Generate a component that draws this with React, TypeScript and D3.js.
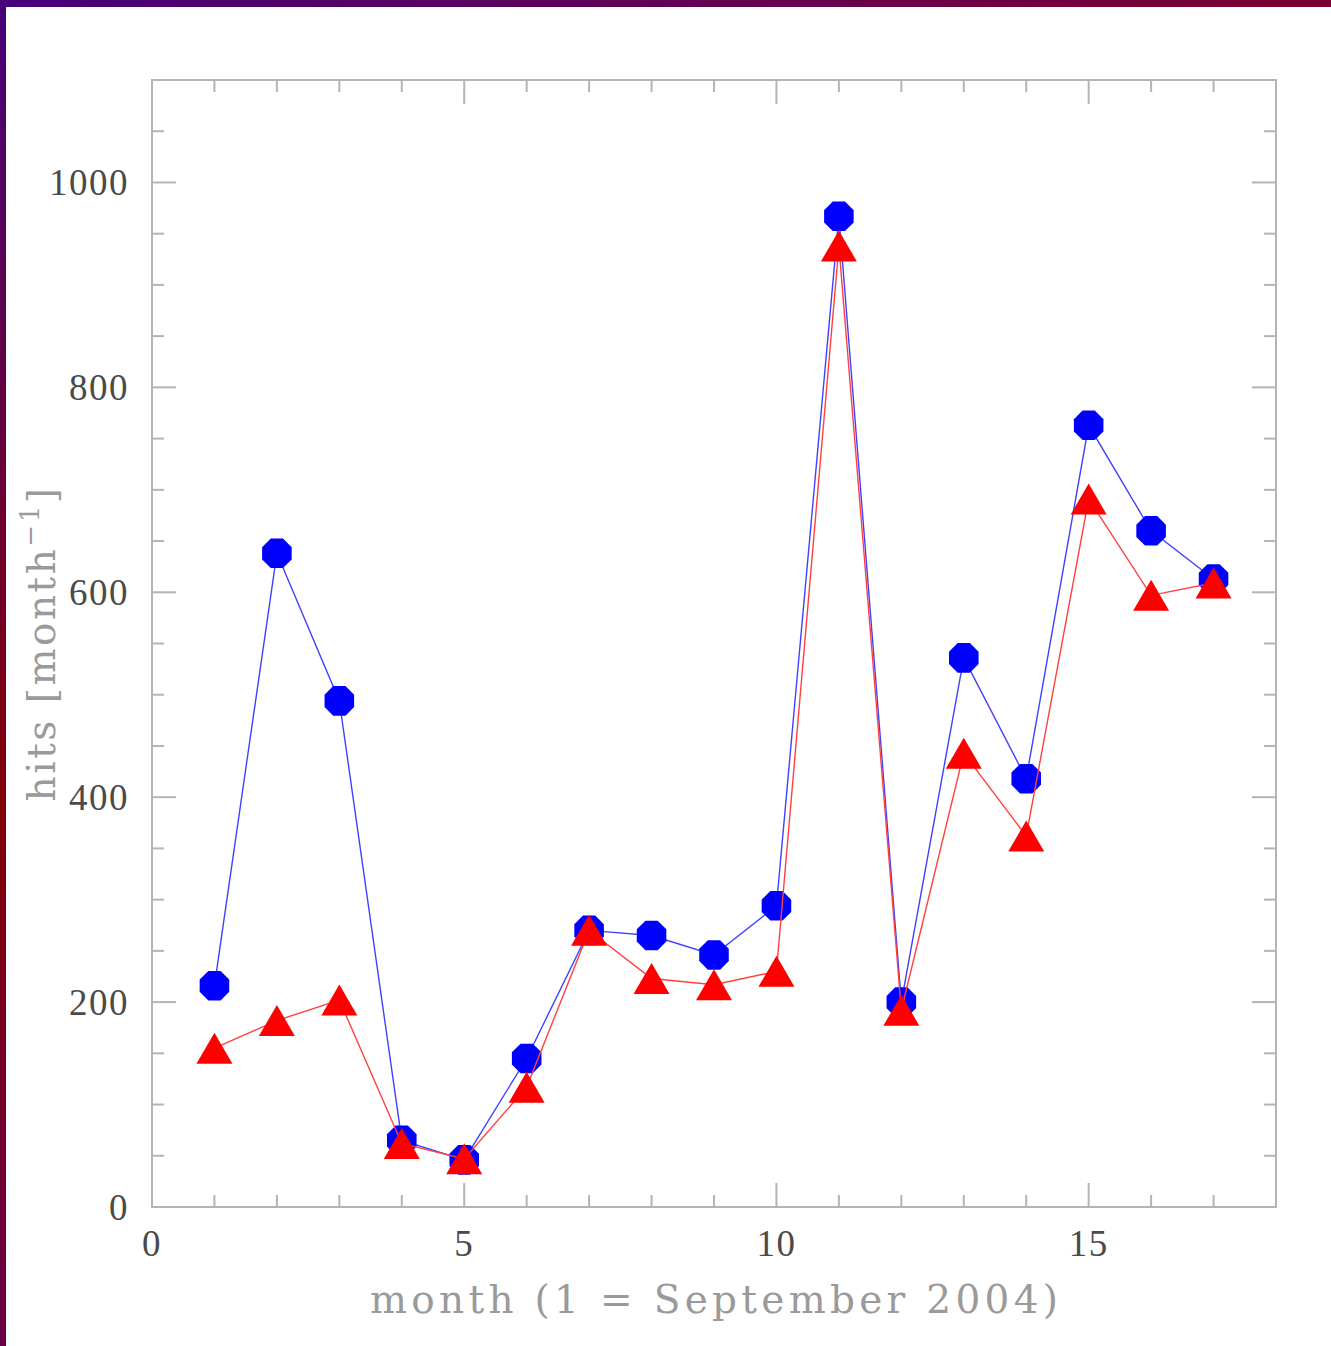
import React from 'react';
import * as d3 from 'd3';

// monthly hits, month 1 = September 2004
const months = [1, 2, 3, 4, 5, 6, 7, 8, 9, 10, 11, 12, 13, 14, 15, 16, 17];
const hitsAll = [216, 638, 494, 65, 46, 145, 270, 265, 246, 294, 967, 200, 536, 418, 763, 660, 613];
const hitsUnique = [155, 182, 202, 62, 47, 117, 270, 223, 217, 230, 938, 192, 443, 362, 691, 597, 609];

const xTickLabels = [0, 5, 10, 15];
const yTickLabels = [0, 200, 400, 600, 800, 1000];

const W = 1331;
const H = 1346;
const left = 152;
const right = 1276;
const top = 80;
const bottom = 1207;

const axisColor = '#b4b4b4';
const labelColor = '#4a4a4a';
const titleColor = '#9a9a9a';
const font = '"Liberation Serif", "DejaVu Serif", serif';
const titleFont = '"DejaVu Serif", "Liberation Serif", serif';

const octagon = (r: number) => {
  const pts = d3.range(8).map(i => {
    const a = (Math.PI / 8) + (i * Math.PI) / 4;
    return [r * Math.cos(a), r * Math.sin(a)];
  });
  return 'M' + pts.map(p => p.join(',')).join('L') + 'Z';
};
const triangle = (w: number, h: number) => `M0,${-h / 2}L${w / 2},${h / 2}L${-w / 2},${h / 2}Z`;

export default function App() {
  const x = d3.scaleLinear().domain([0, 18]).range([left, right]);
  const y = d3.scaleLinear().domain([0, 1100]).range([bottom, top]);

  const xMinor = d3.range(1, 18).filter(v => v % 5 !== 0);
  const xMajor = [5, 10, 15];
  const yMinor = d3.range(50, 1100, 50).filter(v => v % 200 !== 0);
  const yMajor = [200, 400, 600, 800, 1000];

  const line = d3
    .line<number>()
    .x((_, i) => x(months[i]))
    .y(d => y(d));

  const minorLen = 12;
  const majorLen = 24;

  return (
    <div style={{ position: 'absolute', left: 0, top: 0 }}>
      <svg width={W} height={H} style={{ display: 'block', background: '#fff' }}>
        <defs>
          <linearGradient id="topGrad" x1="0" x2="1" y1="0" y2="0">
            <stop offset="0%" stopColor="#46007a" />
            <stop offset="100%" stopColor="#7c0030" />
          </linearGradient>
          <linearGradient id="leftGrad" x1="0" x2="0" y1="0" y2="1">
            <stop offset="0%" stopColor="#46007a" />
            <stop offset="60%" stopColor="#820008" />
            <stop offset="100%" stopColor="#6a0048" />
          </linearGradient>
        </defs>
        <rect x={0} y={0} width={W} height={7} fill="url(#topGrad)" />
        <rect x={0} y={0} width={6} height={H} fill="url(#leftGrad)" />

        {/* ticks on all four sides */}
        <g stroke={axisColor} strokeWidth={2}>
          {xMinor.map(v => (
            <g key={'xm' + v}>
              <line x1={x(v)} x2={x(v)} y1={bottom} y2={bottom - minorLen} />
              <line x1={x(v)} x2={x(v)} y1={top} y2={top + minorLen} />
            </g>
          ))}
          {xMajor.map(v => (
            <g key={'xM' + v}>
              <line x1={x(v)} x2={x(v)} y1={bottom} y2={bottom - majorLen} />
              <line x1={x(v)} x2={x(v)} y1={top} y2={top + majorLen} />
            </g>
          ))}
          {yMinor.map(v => (
            <g key={'ym' + v}>
              <line x1={left} x2={left + minorLen} y1={y(v)} y2={y(v)} />
              <line x1={right} x2={right - minorLen} y1={y(v)} y2={y(v)} />
            </g>
          ))}
          {yMajor.map(v => (
            <g key={'yM' + v}>
              <line x1={left} x2={left + majorLen} y1={y(v)} y2={y(v)} />
              <line x1={right} x2={right - majorLen} y1={y(v)} y2={y(v)} />
            </g>
          ))}
          <rect x={left} y={top} width={right - left} height={bottom - top} fill="none" />
        </g>

        {/* tick labels */}
        <g fontFamily={font} fontSize={37} fill={labelColor}>
          {yTickLabels.map(v => (
            <text key={'yl' + v} x={129} y={y(v)} dy="0.35em" textAnchor="end" letterSpacing={1.5}>
              {v}
            </text>
          ))}
          {xTickLabels.map(v => (
            <text key={'xl' + v} x={x(v)} y={1256} textAnchor="middle" letterSpacing={1.5}>
              {v}
            </text>
          ))}
        </g>

        {/* axis titles */}
        <text
          x={x(9)}
          y={1313}
          textAnchor="middle"
          fontFamily={titleFont}
          fontSize={39}
          fill={titleColor}
          textLength={688}
          lengthAdjust="spacing"
        >
          month (1 = September 2004)
        </text>
        <text
          transform={`translate(55, ${(top + bottom) / 2}) rotate(-90)`}
          textAnchor="middle"
          fontFamily={titleFont}
          fontSize={39}
          fill={titleColor}
          letterSpacing={2.5}
        >
          hits [month
          <tspan fontSize={26} dy={-16}>−1</tspan>
          <tspan dy={16}>]</tspan>
        </text>

        {/* all hits: blue circles */}
        <path d={line(hitsAll) ?? ''} fill="none" stroke="#4040ff" strokeWidth={1.4} />
        {hitsAll.map((v, i) => (
          <path key={'b' + i} d={octagon(16)} transform={`translate(${x(months[i])},${y(v)})`} fill="#0000ff" />
        ))}

        {/* unique hits: red triangles */}
        <path d={line(hitsUnique) ?? ''} fill="none" stroke="#ff4040" strokeWidth={1.4} />
        {hitsUnique.map((v, i) => (
          <path key={'r' + i} d={triangle(36, 31)} transform={`translate(${x(months[i])},${y(v)})`} fill="#ff0000" />
        ))}
      </svg>
    </div>
  );
}
